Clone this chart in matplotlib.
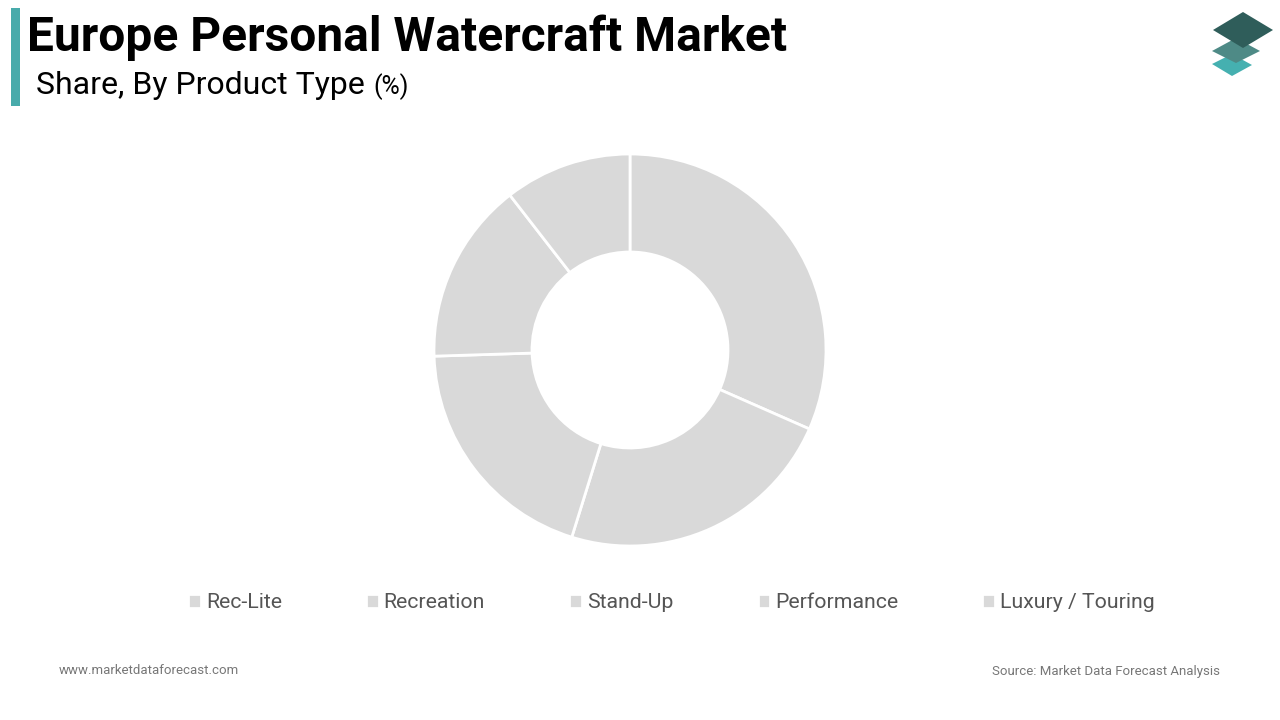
import matplotlib.pyplot as plt
from matplotlib.patches import Polygon, Rectangle

plt.rcParams['font.family'] = ['Roboto', 'DejaVu Sans']

categories = ["Rec-Lite", "Recreation", "Stand-Up", "Performance", "Luxury / Touring"]
shares = [31.6, 23.2, 19.7, 15.0, 10.5]
slice_color = "#d9d9d9"

W, H = 1280, 720
fig = plt.figure(figsize=(W / 100, H / 100), dpi=100)
fig.patch.set_facecolor("white")

def fx(x):
    return x / W

def fy(y):
    return 1 - y / H

# donut, centre (630, 350), outer radius 196 px
cx, cy, r = 630, 350, 196
half = 210
ax = fig.add_axes([fx(cx - half), fy(cy + half), 2 * half / W, 2 * half / H])
wedges, _ = ax.pie(shares, colors=[slice_color] * len(shares), startangle=90,
                   counterclock=False, radius=1,
                   wedgeprops=dict(width=0.5, edgecolor="white", linewidth=2))
ax.set_xlim(-half / r, half / r)
ax.set_ylim(-half / r, half / r)
ax.set_aspect("equal")
ax.axis("off")

# legend
leg = fig.legend(wedges, categories, loc="center", bbox_to_anchor=(fx(671.5), fy(603)),
                 ncol=5, frameon=False, fontsize=15.3, handlelength=0.6, handleheight=0.6,
                 handletextpad=0.22, columnspacing=3.97, borderaxespad=0)
for t in leg.get_texts():
    t.set_color("#555555")

# title block
fig.patches.append(Rectangle((fx(11), fy(106)), 9 / W, 98 / H, transform=fig.transFigure,
                             facecolor="#48abab", edgecolor="none"))
fig.text(fx(27), fy(38), "Europe Personal Watercraft Market", fontsize=34.5, fontweight="bold",
         color="black", va="center", ha="left")
fig.text(fx(36), fy(85), "Share, By Product Type", fontsize=23, color="black",
         va="center", ha="left")
fig.text(fx(373), fy(87), "(%)", fontsize=18, color="black", va="center", ha="left")

# logo
logo = [
    ([(1212, 64), (1232, 54), (1252, 65), (1232, 76)], "#45b0b0"),
    ([(1212, 51), (1236, 38), (1260, 51), (1236, 63)], "#4e8a86"),
    ([(1213, 30), (1243, 12), (1273, 30), (1243, 48)], "#2f5d5a"),
]
for pts, c in logo:
    fig.patches.append(Polygon([(fx(x), fy(y)) for x, y in pts], closed=True,
                               transform=fig.transFigure, facecolor=c, edgecolor="none"))

# footer
fig.text(fx(59), fy(671), "www.marketdataforecast.com", fontsize=9.5, color="#777777",
         va="center", ha="left")
fig.text(fx(1220), fy(671), "Source: Market Data Forecast Analysis", fontsize=9.5,
         color="#777777", va="center", ha="right")

fig.savefig("out.png", dpi=100)
